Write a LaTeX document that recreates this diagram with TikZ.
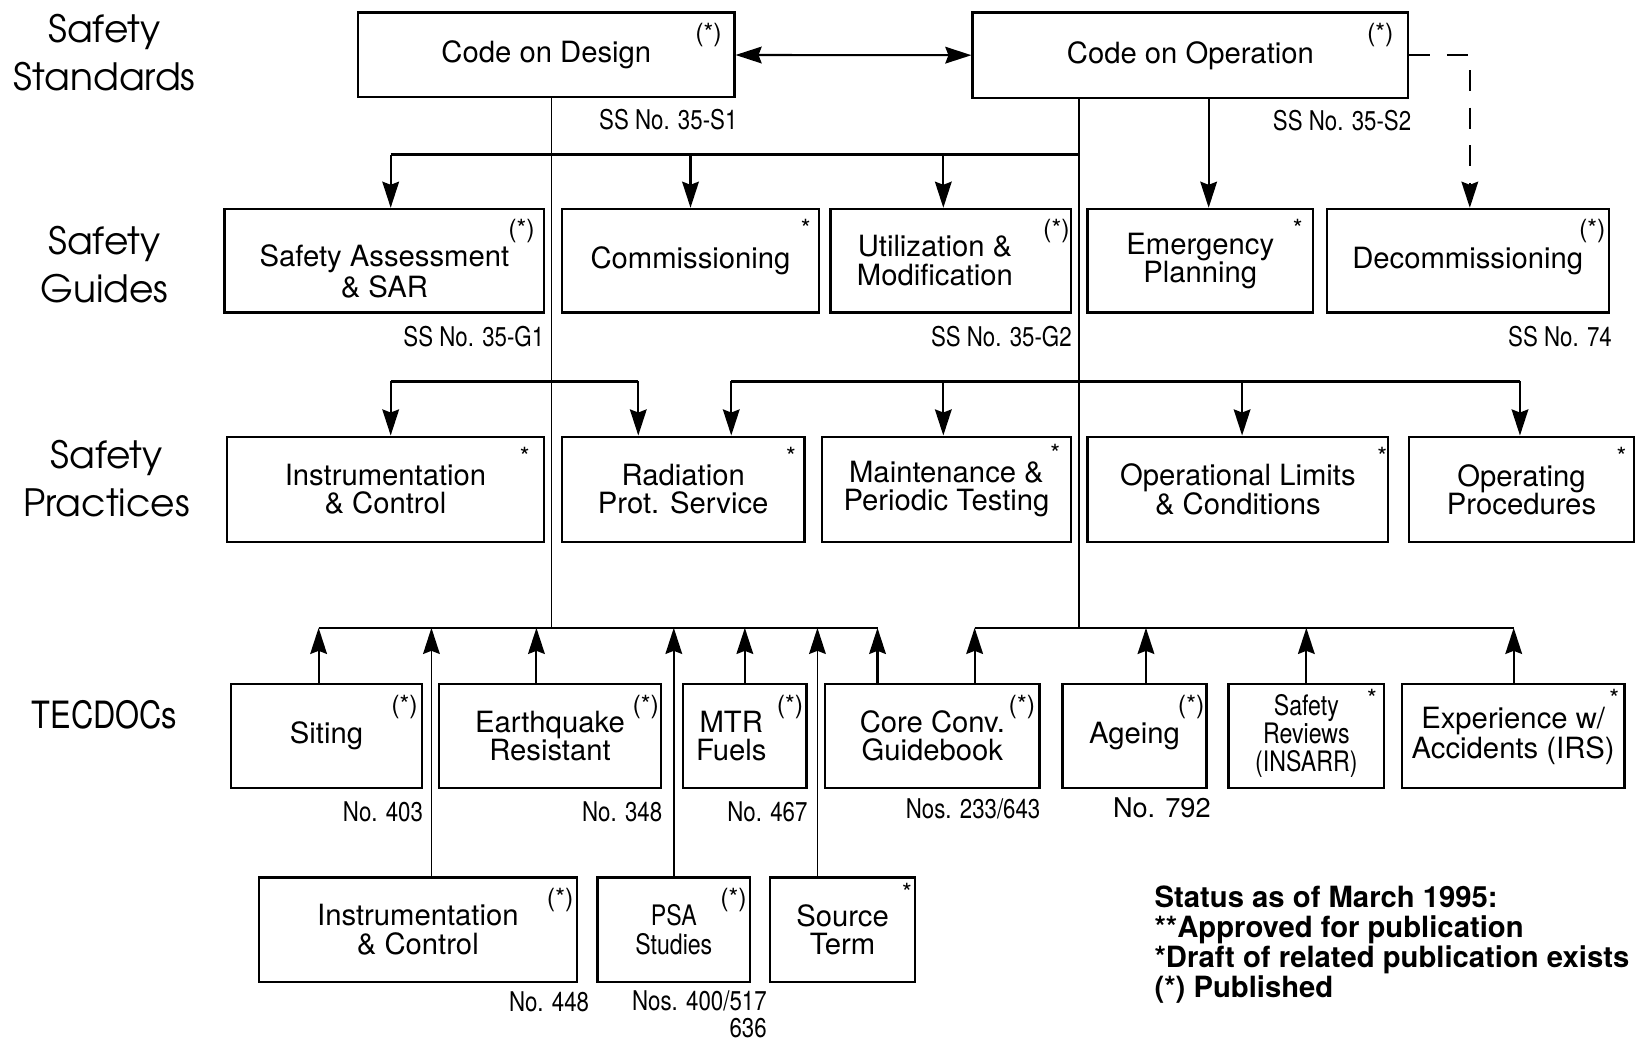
\documentclass[tikz,border=0pt]{standalone}
\usepackage{fontspec}
\setmainfont{TeX Gyre Heros}
\newfontfamily\tierfont{TeX Gyre Adventor}
\newfontfamily\cnfont[FakeStretch=0.82]{TeX Gyre Heros}
\usetikzlibrary{positioning,arrows.meta}

\begin{document}
\begin{tikzpicture}[x=1pt,y=-1pt,
    doc/.style={draw,line width=2.2pt,minimum height=99pt,inner sep=0pt,align=center,font=\fontsize{28}{27}\selectfont},
    pub/.style={anchor=north east,inner sep=0pt,xshift=-6pt,yshift=-11pt,font=\fontsize{24}{24}\selectfont},
    ssno/.style={inner sep=0pt,font=\cnfont\fontsize{26}{27}\selectfont},
    tier/.style={align=center,inner sep=0pt,font=\tierfont\fontsize{36}{46}\selectfont},
    bus/.style={line width=2.4pt},
    trunk/.style={line width=1.6pt},
    arr/.style={line width=2pt,-{Stealth[length=25pt,width=16pt,inset=3pt]}},
    twoway/.style={line width=2pt,{Stealth[length=25pt,width=16pt,inset=3pt]}-{Stealth[length=25pt,width=16pt,inset=3pt]}}]

\useasboundingbox (0,0) rectangle (1568,996);

\node[tier] (tss) at (100,50) {Safety\\Standards};
\node[tier] (tsg) at (100,253) {Safety\\Guides};
\node[tier] (tsp) at (102,458) {Safety\\Practices};
\node[inner sep=0pt,font=\cnfont\fontsize{36}{36}\selectfont] (ttd) at (100,684) {TECDOCs};

\node[doc,minimum width=360pt,minimum height=81pt,label={[pub,xshift=-7pt]north east:(*)}] (cd) at (523,52.5) {Code on Design};
\node[doc,minimum width=417pt,minimum height=82pt,label={[pub,xshift=-9pt]north east:(*)}] (co) at (1139.5,53) {Code on Operation};
\node[ssno,below left=10pt and -2pt of cd.south east] (cdno) {SS No. 35-S1};
\node[ssno,below left=10pt and -2pt of co.south east] (cono) {SS No. 35-S2};

\node[doc,minimum width=306pt,label={[pub,xshift=-4pt]north east:(*)}] (sg1) at (368,249.5)
  {\raisebox{-14pt}[\height][\depth]{\begin{tabular}{@{}c@{}}Safety Assessment\\\& SAR\end{tabular}}};
\node[doc,minimum width=246pt,label={[pub,xshift=-3pt]north east:*}] (sg2) at (661,249.5) {Commissioning};
\node[doc,minimum width=230pt,label={[pub,xshift=4pt]north east:(*)}] (sg3) at (910,249.5)
  {Utilization \&\hspace*{30pt}\\Modification\hspace*{30pt}};
\node[doc,minimum width=216pt,label={[pub,xshift=-5pt]north east:*}] (sg4) at (1149,249.5) {Emergency\\Planning};
\node[doc,minimum width=270pt,label={[pub,xshift=2pt]north east:(*)}] (sg5) at (1405,249.5) {Decommissioning};
\node[ssno,below left=12pt and 1pt of sg1.south east] (sg1no) {SS No. 35-G1};
\node[ssno,below left=12pt and 0pt of sg3.south east] (sg3no) {SS No. 35-G2};
\node[ssno,below left=12pt and -2pt of sg5.south east] (sg5no) {SS No. 74};

\node[doc,minimum width=304pt,minimum height=101pt,label={[pub,xshift=-9pt]north east:*}] (sp1) at (369,468.5) {Instrumentation\\\& Control};
\node[doc,minimum width=232pt,minimum height=101pt,label={[pub,xshift=-3pt]north east:*}] (sp2) at (654,468.5) {Radiation\\Prot. Service};
\node[doc,minimum width=238pt,minimum height=101pt,label={[pub,xshift=-5pt,yshift=3pt]north east:*}] (sp3) at (906,468.5) {Maintenance \&\\Periodic Testing};
\node[doc,minimum width=288pt,minimum height=101pt,label={[pub,xshift=4pt]north east:*}] (sp4) at (1185,468.5) {Operational Limits\\\& Conditions};
\node[doc,minimum width=215pt,minimum height=101pt,label={[pub,xshift=-2pt]north east:*}] (sp5) at (1456.5,468.5) {Operating\\Procedures};

\node[doc,minimum width=183pt,label={[pub,xshift=1pt]north east:(*)}] (td1) at (312.5,704.5) {Siting};
\node[doc,minimum width=213pt,label={[pub,xshift=3pt]north east:(*)}] (td2) at (526.5,704.5) {Earthquake\\Resistant};
\node[doc,minimum width=118pt,label={[pub,xshift=2pt]north east:(*)}] (td3) at (713,704.5) {MTR\hspace*{26pt}\\Fuels\hspace*{26pt}};
\node[doc,minimum width=205pt,label={[pub,xshift=1pt]north east:(*)}] (td4) at (892.5,704.5) {Core Conv.\\Guidebook};
\node[doc,minimum width=138pt,label={[pub,xshift=3pt]north east:(*)}] (td5) at (1086,704.5) {Ageing};
\node[doc,minimum width=149pt,font=\cnfont\fontsize{27}{27}\selectfont,label={[pub,xshift=-2pt,yshift=5pt]north east:*}] (td6) at (1250.5,704.5) {Safety\\Reviews\\(INSARR)};
\node[doc,minimum width=213pt,label={[pub,yshift=5pt]north east:*}] (td7) at (1448.5,704.5) {Experience w/\\Accidents (IRS)};
\node[ssno,below left=12pt and 0pt of td1.south east] (td1no) {No. 403};
\node[ssno,below left=12pt and 0pt of td2.south east] (td2no) {No. 348};
\node[ssno,below left=12pt and 0pt of td3.south east] (td3no) {No. 467};
\node[ssno,below left=9pt and 0pt of td4.south east] (td4no) {Nos. 233/643};
\node[ssno,font=\fontsize{26}{27}\selectfont,below left=8pt and -3pt of td5.south east] (td5no) {No. 792};

\node[doc,minimum width=304pt,minimum height=100pt,label={[pub,xshift=2pt]north east:(*)}] (tb1) at (400,890) {Instrumentation\\\& Control};
\node[doc,minimum width=146pt,minimum height=100pt,font=\cnfont\fontsize{27}{27}\selectfont,label={[pub,xshift=2pt]north east:(*)}] (tb2) at (645,890) {PSA\\Studies};
\node[doc,minimum width=139pt,minimum height=100pt,label={[pub,xshift=2pt,yshift=5pt]north east:*}] (tb3) at (806.5,890) {Source\\Term};
\node[ssno,below left=8pt and -11pt of tb1.south east] (tb1no) {No. 448};
\node[ssno,align=right,font=\cnfont\fontsize{26}{25.5}\selectfont,below left=7pt and -15pt of tb2.south east] (tb2no) {Nos. 400/517\\636};

\node[anchor=north west,align=left,inner sep=0pt,font=\bfseries\fontsize{28}{28.5}\selectfont] (key) at (1105,848)
  {Status as of March 1995:\\**Approved for publication\\*Draft of related publication exists\\(*) Published};

\draw[twoway] (cd) -- (co);
\draw[arr,dash pattern=on 20pt off 16pt] (co.east) -| ([xshift=2pt]sg5.north);
\draw[arr] ([xshift=8pt]sg4.north |- co.south) -- ([xshift=8pt]sg4.north);

\coordinate (dj) at (528,601);
\coordinate (oj) at (1033,601);
\draw[trunk] (cd.south -| dj) -- (dj);
\draw[trunk] (co.south -| oj) -- (oj);

\coordinate (g1) at (374,148);
\coordinate (g2) at (1033,148);
\draw[bus] (g1) -- (g2);
\draw[arr] (g1) -- (g1 |- sg1.north);
\draw[arr] (sg2.north |- g1) -- (sg2.north);
\draw[arr] ([xshift=-7pt]sg3.north |- g1) -- ([xshift=-7pt]sg3.north);

\coordinate (p1) at (374,365);
\coordinate (p2) at (611,365);
\coordinate (p3) at (700,365);
\coordinate (p4) at (1455,365);
\draw[bus] (p1) -- (p2);
\draw[bus] (p3) -- (p4);
\draw[arr] (p1) -- (p1 |- sp1.north);
\draw[arr] (p2) -- (p2 |- sp2.north);
\draw[arr] (p3) -- (p3 |- sp2.north);
\draw[arr] ([xshift=-3pt]sp3.north |- p3) -- ([xshift=-3pt]sp3.north);
\draw[arr] ([xshift=4pt]sp4.north |- p3) -- ([xshift=4pt]sp4.north);
\draw[arr] (p4) -- (p4 |- sp5.north);

\coordinate (t1) at (305,601);
\coordinate (t2) at (840,601);
\coordinate (t3) at (933,601);
\coordinate (t4) at (1449,601);
\draw[bus] (t1) -- (t2);
\draw[bus] (t3) -- (t4);
\draw[arr] (t1 |- td1.north) -- (t1);
\draw[arr] ([xshift=-13pt]td2.north) -- ([xshift=-13pt]td2.north |- t1);
\draw[arr] (td3.north) -- (td3.north |- t1);
\draw[arr] (t2 |- td4.north) -- (t2);
\draw[arr] (t3 |- td4.north) -- (t3);
\draw[arr] ([xshift=11pt]td5.north) -- ([xshift=11pt]td5.north |- t3);
\draw[arr] (td6.north) -- (td6.north |- t3);
\draw[arr] (t4 |- td7.north) -- (t4);
\draw[arr,line width=1.6pt] ([xshift=13pt]tb1.north) -- ([xshift=13pt]tb1.north |- t1);
\draw[arr,line width=1.6pt] (tb2.north) -- (tb2.north |- t1);
\draw[arr,line width=1.6pt] ([xshift=-24pt]tb3.north) -- ([xshift=-24pt]tb3.north |- t1);
\end{tikzpicture}
\end{document}
